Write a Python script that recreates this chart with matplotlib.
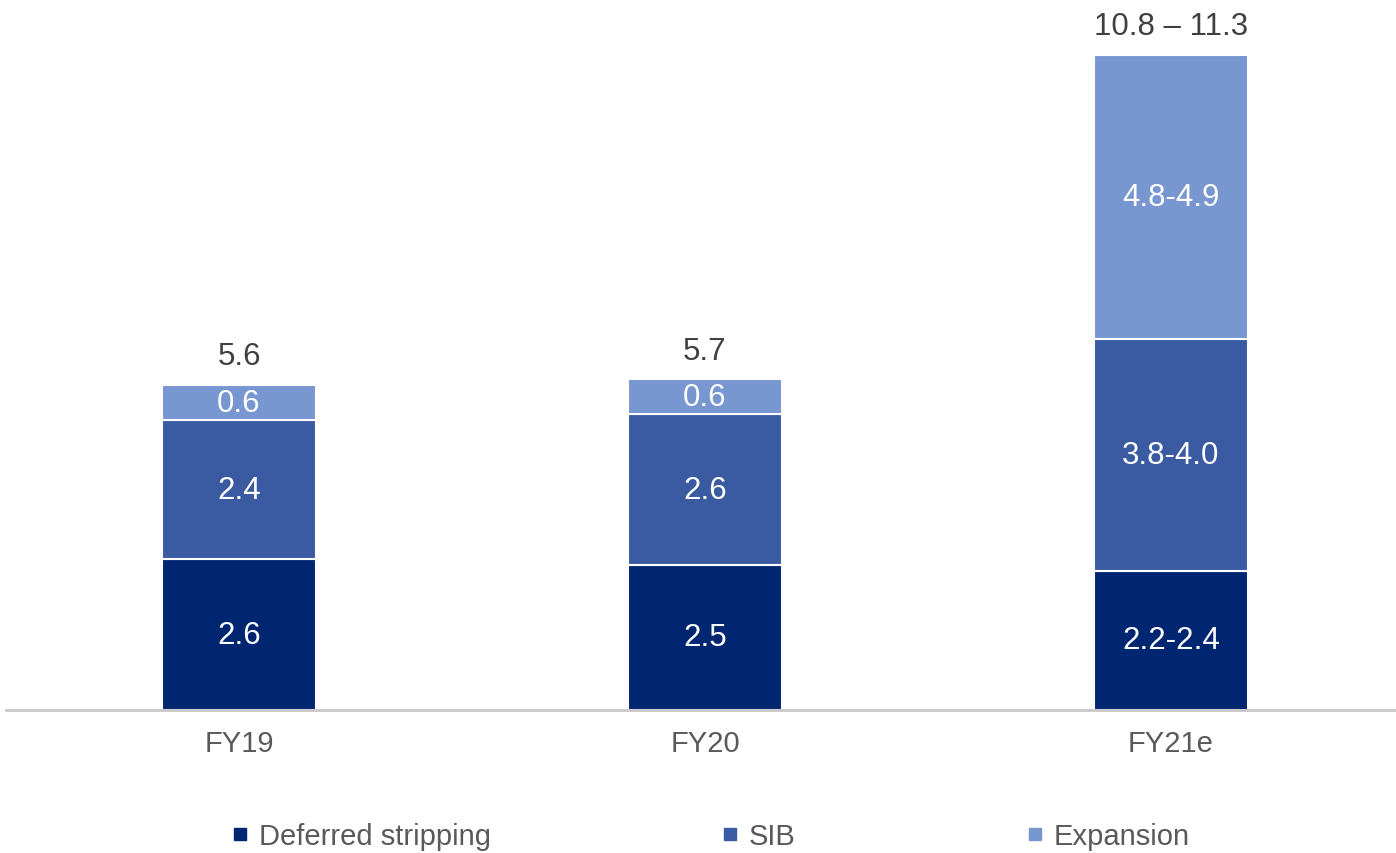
import matplotlib.pyplot as plt
from matplotlib.lines import Line2D
import numpy as np

plt.rcParams['font.family'] = ['Liberation Sans', 'DejaVu Sans']

years = ['FY19', 'FY20', 'FY21e']
series = ['Deferred stripping', 'SIB', 'Expansion']
deferred = [2.6, 2.5, 2.4]
sib = [2.4, 2.6, 4.0]
expansion = [0.6, 0.6, 4.9]
deferred_lbl = ['2.6', '2.5', '2.2-2.4']
sib_lbl = ['2.4', '2.6', '3.8-4.0']
expansion_lbl = ['0.6', '0.6', '4.8-4.9']
totals_lbl = ['5.6', '5.7', '10.8 \u2013 11.3']

colors = ['#002672', '#3a5ba2', '#7896d0']

fig = plt.figure(figsize=(13.96, 8.54), dpi=100)
ax = fig.add_axes([6/1396, 1 - 711/854, 1 - 6/1396, 711/854])

x = np.arange(len(years))
w = 0.33
bottom = np.zeros(len(years))
for vals, lbls, c in zip([deferred, sib, expansion], [deferred_lbl, sib_lbl, expansion_lbl], colors):
    bars = ax.bar(x, vals, w, bottom=bottom, color=c, edgecolor='white', linewidth=1.5)
    ax.bar_label(bars, labels=lbls, label_type='center', color='white', fontsize=22.5)
    bottom += np.array(vals)

for xi, top, t in zip(x, bottom, totals_lbl):
    ax.annotate(t, (xi, top), xytext=(0, 10), textcoords='offset points',
                ha='center', va='bottom', fontsize=22.5, color='#404040')

ax.set_xlim(-0.5, 2.483)
ax.set_ylim(0, 711/58)
ax.set_xticks(x)
ax.set_xticklabels(years, fontsize=21, color='#595959')
ax.tick_params(axis='x', length=0, pad=14)
ax.set_yticks([])
for s in ['top', 'left', 'right']:
    ax.spines[s].set_visible(False)
ax.spines['bottom'].set_color('#c8c8c8')
ax.spines['bottom'].set_linewidth(2)

handles = [Line2D([], [], marker='s', linestyle='none', color=c, markersize=8) for c in colors]
fig.legend(handles, series, loc='center', bbox_to_anchor=(0.509, 1 - 837/854), ncol=3,
           frameon=False, fontsize=21, handlelength=0.6, handletextpad=0.35,
           columnspacing=7.9, labelcolor='#595959')

fig.savefig('out.png', dpi=100)
